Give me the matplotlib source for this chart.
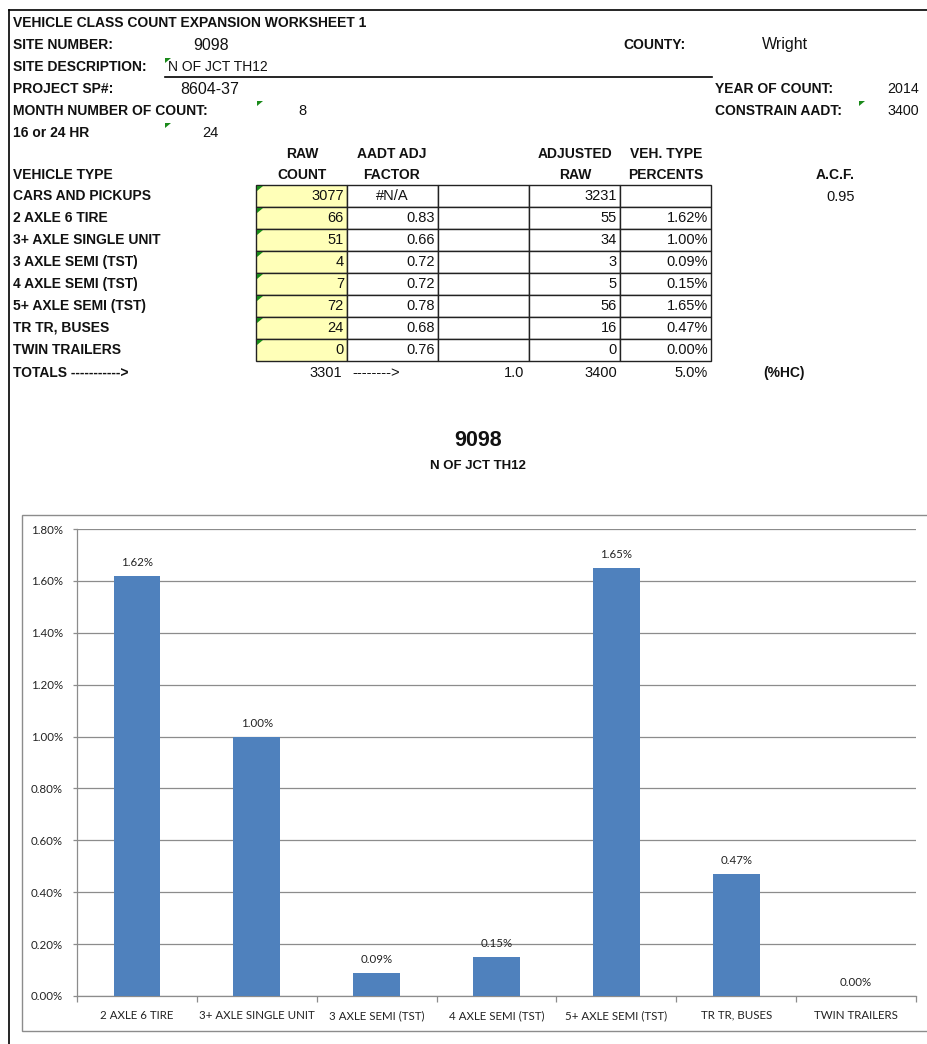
import numpy as np
import matplotlib
matplotlib.use("Agg")
import matplotlib.pyplot as plt
from matplotlib.patches import Rectangle, Polygon
from matplotlib.ticker import FuncFormatter

# worksheet data
site_number = "9098"
site_description = "N OF JCT TH12"
county = "Wright"
project_sp = "8604-37"
month_of_count = "8"
hours = "24"
year_of_count = "2014"
constrain_aadt = "3400"
acf = "0.95"

vehicle_types = ["CARS AND PICKUPS", "2 AXLE 6 TIRE", "3+ AXLE SINGLE UNIT",
                 "3 AXLE SEMI (TST)", "4 AXLE SEMI (TST)", "5+ AXLE SEMI (TST)",
                 "TR TR, BUSES", "TWIN TRAILERS"]
raw_count = [3077, 66, 51, 4, 7, 72, 24, 0]
aadt_factor = [None, 0.83, 0.66, 0.72, 0.72, 0.78, 0.68, 0.76]
adjusted_raw = [3231, 55, 34, 3, 5, 56, 16, 0]
veh_percent = [None, 1.62, 1.00, 0.09, 0.15, 1.65, 0.47, 0.00]
total_raw = 3301
total_factor = "1.0"
total_adjusted = 3400
total_hc = "5.0%"

chart_labels = ["2 AXLE 6 TIRE", "3+ AXLE SINGLE UNIT", "3 AXLE SEMI (TST)",
                "4 AXLE SEMI (TST)", "5+ AXLE SEMI (TST)", "TR TR, BUSES",
                "TWIN TRAILERS"]
chart_values = veh_percent[1:]

W, H = 927, 1044
fig = plt.figure(figsize=(W / 100, H / 100), dpi=100)
sheet = fig.add_axes([0, 0, 1, 1], zorder=0)
sheet.set_xlim(0, W)
sheet.set_ylim(H, 0)
sheet.axis("off")

FONT = "Liberation Sans"


def txt(x, y, s, size=10, bold=False, ha="left"):
    sheet.text(x, y, s, fontsize=size, fontweight="bold" if bold else "normal",
               ha=ha, va="center", family=FONT, color="#111111")


def flag(x, y):
    sheet.add_patch(Polygon([[x, y], [x + 6, y], [x, y + 5]], closed=True,
                            color="#1a8a1a", lw=0))


# page border
sheet.plot([9, W], [10, 10], color="black", lw=1.2)
sheet.plot([9, 9], [10, H], color="black", lw=1.2)
sheet.plot([165, 712], [77, 77], color="black", lw=1.2)

# header block
txt(13, 23, "VEHICLE CLASS COUNT EXPANSION WORKSHEET 1", bold=True)
txt(13, 45, "SITE NUMBER:", bold=True)
txt(193, 45, site_number, size=11.5)
txt(623, 45, "COUNTY:", bold=True)
txt(762, 45, county, size=11.5)
txt(13, 67, "SITE DESCRIPTION:", bold=True)
flag(165, 58)
txt(168, 67, site_description, size=10)
txt(13, 89, "PROJECT SP#:", bold=True)
txt(180, 89, project_sp, size=11.5)
txt(715, 89, "YEAR OF COUNT:", bold=True)
txt(919, 89, year_of_count, size=10.3, ha="right")
txt(13, 111, "MONTH NUMBER OF COUNT:", bold=True)
flag(257, 101)
txt(302, 111, month_of_count, size=10.5, ha="center")
txt(715, 111, "CONSTRAIN AADT:", bold=True)
flag(859, 101)
txt(919, 111, constrain_aadt, size=10.3, ha="right")
txt(13, 133, "16 or 24 HR", bold=True)
flag(165, 123)
txt(219, 133, hours, size=10.5, ha="right")

# table headers
txt(302, 154, "RAW", bold=True, ha="center")
txt(302, 175, "COUNT", bold=True, ha="center")
txt(392, 154, "AADT ADJ", bold=True, ha="center")
txt(392, 175, "FACTOR", bold=True, ha="center")
txt(575, 154, "ADJUSTED", bold=True, ha="center")
txt(575, 175, "RAW", bold=True, ha="center")
txt(666, 154, "VEH. TYPE", bold=True, ha="center")
txt(666, 175, "PERCENTS", bold=True, ha="center")
txt(13, 175, "VEHICLE TYPE", bold=True)
txt(855, 175, "A.C.F.", bold=True, ha="right")
txt(855, 197, acf, size=10.5, ha="right")

col_edges = [256, 347, 438, 529, 620, 711]
row_top, row_h = 185, 22
for i, name in enumerate(vehicle_types):
    y0 = row_top + i * row_h
    yc = y0 + row_h / 2
    for j in range(5):
        sheet.add_patch(Rectangle((col_edges[j], y0), col_edges[j + 1] - col_edges[j], row_h,
                                  facecolor="#FFFFB8" if j == 0 else "white",
                                  edgecolor="#222222", lw=1.0))
    flag(col_edges[0] + 1, y0 + 1)
    txt(13, yc, name, bold=True)
    txt(col_edges[1] - 3, yc, str(raw_count[i]), size=10.5, ha="right")
    if aadt_factor[i] is None:
        txt(392, yc, "#N/A", size=10.5, ha="center")
    else:
        txt(col_edges[2] - 3, yc, f"{aadt_factor[i]:.2f}", size=10.5, ha="right")
    txt(col_edges[4] - 3, yc, str(adjusted_raw[i]), size=10.5, ha="right")
    if veh_percent[i] is not None:
        txt(col_edges[5] - 3, yc, f"{veh_percent[i]:.2f}%", size=10.5, ha="right")

ty = row_top + len(vehicle_types) * row_h + 12
txt(13, ty, "TOTALS ----------->", bold=True)
txt(col_edges[1] - 5, ty, str(total_raw), size=10.5, ha="right")
txt(352, ty, "-------->", size=10.5)
txt(col_edges[3] - 5, ty, total_factor, size=10.5, ha="right")
txt(col_edges[4] - 3, ty, str(total_adjusted), size=10.5, ha="right")
txt(col_edges[5] - 3, ty, total_hc, size=10.5, ha="right")
txt(763, ty, "(%HC)", bold=True)

# chart title
txt(478, 440, site_number, size=15.5, bold=True, ha="center")
txt(478, 466, site_description, size=9.5, bold=True, ha="center")

# chart box
sheet.add_patch(Rectangle((22, 515), 1000, 516, facecolor="white",
                          edgecolor="#8c8c8c", lw=1.0))

# bar chart
left, right, top, bottom = 77, 916, 529, 996
ax = fig.add_axes([left / W, (H - bottom) / H, (right - left) / W, (bottom - top) / H],
                  zorder=2)
ax.patch.set_alpha(0)
x = np.arange(len(chart_labels))
bars = ax.bar(x, chart_values, width=0.39, color="#4F81BD", zorder=3)
for xi, v in zip(x, chart_values):
    ax.annotate(f"{v:.2f}%", (xi, v), xytext=(0, 5.5), textcoords="offset points",
                ha="center", va="bottom", fontsize=8.3, family="Lato", color="#222222")
ax.set_xlim(-0.5, len(chart_labels) - 0.5)
ax.set_ylim(0, 1.8)
ax.set_yticks(np.arange(0, 1.81, 0.2))
ax.yaxis.set_major_formatter(FuncFormatter(lambda v, p: f"{v:.2f}%"))
ax.grid(axis="y", color="#8c8c8c", lw=0.9, zorder=0)
ax.set_axisbelow(True)
for s in ["top", "right"]:
    ax.spines[s].set_visible(False)
for s in ["left", "bottom"]:
    ax.spines[s].set_color("#8c8c8c")
    ax.spines[s].set_linewidth(0.9)
ax.set_xticks(x)
ax.set_xticklabels(chart_labels)
ax.set_xticks(np.arange(-0.5, len(chart_labels), 1), minor=True)
ax.tick_params(axis="x", which="major", length=0, pad=10, labelsize=8.3,
               labelcolor="#222222")
ax.tick_params(axis="x", which="minor", length=4, color="#8c8c8c", width=0.9)
ax.tick_params(axis="y", length=3, color="#8c8c8c", width=0.9, pad=7,
               labelsize=8.3, labelcolor="#222222")
for lab in ax.get_xticklabels() + ax.get_yticklabels():
    lab.set_family("Lato")

fig.savefig("out.png", dpi=100)
